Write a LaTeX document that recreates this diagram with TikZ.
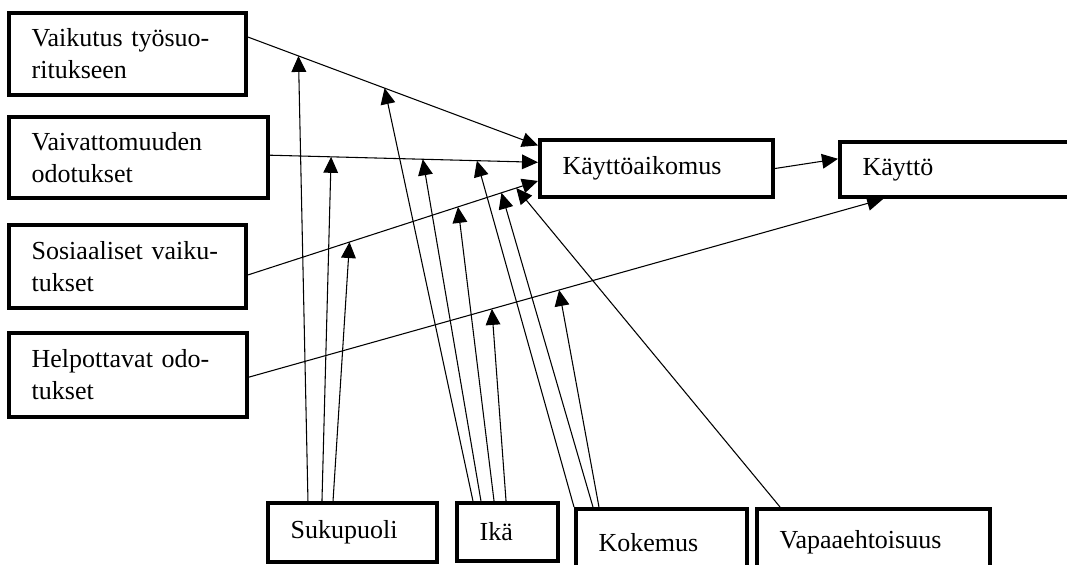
\documentclass[tikz,border=0pt]{standalone}
\usepackage{fontspec}
\setmainfont{Liberation Serif}
\usetikzlibrary{arrows.meta}
\begin{document}
\begin{tikzpicture}[x=0.75pt,y=-0.75pt,
  box/.style={draw, line width=3pt, inner xsep=17pt, inner ysep=0pt, align=left, font=\fontsize{19.5}{24}\selectfont},
  arr/.style={line width=0.8pt, -{Triangle[length=12pt,width=11pt]}}]
\useasboundingbox (0,0) rectangle (1067,564);
\node[box, text width=143.75pt, minimum height=61.5pt] (pe) at (127.5,54) {Vaikutus työsuo-\\ritukseen};
\node[box, text width=160.25pt, minimum height=60.75pt] (ee) at (138.5,157.5) {Vaivattomuuden\\odotukset};
\node[box, text width=143.75pt, minimum height=62.25pt] (si) at (127.5,266.5) {Sosiaaliset vaiku-\\tukset};
\node[box, text width=144.5pt, minimum height=63pt] (fc) at (128,375) {Helpottavat odo-\\tukset};
\node[box, text width=140.75pt, minimum height=42.75pt] (bi) at (656.5,168.5) {Käyttöaikomus};
\node[box, text width=146pt, minimum height=41.25pt] (use) at (960,169.5) {Käyttö};
\node[box, text width=92.75pt, minimum height=44.25pt] (gen) at (352.5,532.5) {Sukupuoli};
\node[box, text width=41.75pt, minimum height=43.5pt] (age) at (507.5,532) {Ikä};
\node[box, text width=94.25pt, minimum height=50.25pt] (exp) at (661.5,542.5) {Kokemus};
\node[box, text width=140.75pt, minimum height=50.25pt] (vol) at (873.5,542.5) {Vapaaehtoisuus};
\draw[arr] (pe.8) -- coordinate[pos=0.174] (pe1) coordinate[pos=0.471] (pe2) (bi.169);
\draw[arr] (ee.1.5) -- coordinate[pos=0.228] (ee1) coordinate[pos=0.57] (ee2) coordinate[pos=0.772] (ee3) (bi.177);
\draw[arr] (si.-4.6) -- coordinate[pos=0.35] (si1) coordinate[pos=0.724] (si2) coordinate[pos=0.874] (si3) coordinate[pos=0.925] (si4) (bi.186);
\draw[arr] (fc.-1.4) -- coordinate[pos=0.383] (fc1) coordinate[pos=0.489] (fc2) (use.201);
\draw[arr] (bi.east) -- (use.175);
\draw[arr] ([xshift=-33.4pt]gen.north) -- (pe1);
\draw[arr] ([xshift=-22.9pt]gen.north) -- (ee1);
\draw[arr] ([xshift=-14.6pt]gen.north) -- (si1);
\draw[arr] ([xshift=-25.9pt]age.north) -- (pe2);
\draw[arr] ([xshift=-19.9pt]age.north) -- (ee2);
\draw[arr] ([xshift=-10.1pt]age.north) -- (si2);
\draw[arr] ([xshift=-1.1pt]age.north) -- (fc1);
\draw[arr] (exp.north west) -- (ee3);
\draw[arr] ([xshift=-51.4pt]exp.north) -- (si3);
\draw[arr] ([xshift=-46.9pt]exp.north) -- (fc2);
\draw[arr] ([xshift=-70.1pt]vol.north) -- (si4);
\end{tikzpicture}
\end{document}
